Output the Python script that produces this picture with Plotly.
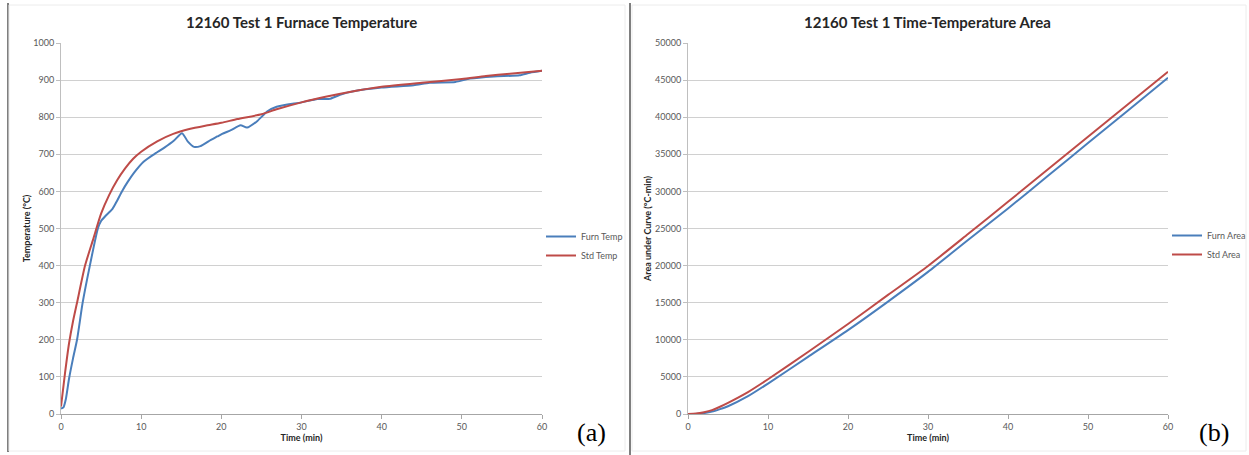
import plotly.graph_objects as go

# ---- data ----
std_t = [0, 0.5, 1, 1.5, 2, 3, 4, 5, 6, 7, 8, 9, 10, 12, 14, 16, 18, 20, 22, 25, 27, 30, 33, 36, 40, 45, 50, 53, 56, 60]
std_temp = [20, 110, 190, 250, 300, 400, 470, 540, 590, 630, 662, 688, 707, 735, 755, 768, 777, 785, 795, 808, 822, 840, 855, 868, 882, 893, 903, 911, 917, 925]

furn_t = [0, 0.3, 0.6, 1.0, 1.5, 2.0, 2.7, 3.6, 4.6, 5.0, 5.6, 6.4, 7.0, 7.6, 8.3, 9.1, 10.3, 11.6, 12.9, 14.1, 15.1, 15.8, 16.6, 17.4, 18.4, 19.5, 20.1, 21.2, 22.4, 23.2, 24.5, 25.7, 26.9, 30, 32, 33.6, 35, 36.5, 40, 44, 46, 49.2, 51, 54, 57.2, 58.5, 60]
furn_temp = [15, 18, 40, 95, 150, 200, 300, 400, 500, 520, 535, 552, 575, 600, 625, 650, 680, 700, 718, 737, 757, 735, 720, 722, 735, 748, 755, 765, 778, 772, 790, 815, 828, 840, 849, 850, 862, 870, 880, 886, 893, 895, 904, 910, 913, 920, 925]

area_t = [0, 1, 2, 3, 4, 5, 7.5, 10, 15, 20, 25, 30, 35, 40, 45, 50, 55, 60]
std_area = [0, 60, 240, 520, 980, 1500, 2950, 4680, 8350, 12130, 16050, 19950, 24250, 28600, 32980, 37370, 41750, 46130]
furn_area = [0, 15, 120, 320, 660, 1050, 2400, 4100, 7700, 11300, 15150, 19150, 23450, 27700, 32100, 36510, 40900, 45320]

x_ticks = [0, 10, 20, 30, 40, 50, 60]
temp_ticks = list(range(0, 1001, 100))
area_ticks = list(range(0, 50001, 5000))

BLUE = "#4a7ebb"
RED = "#be4b48"
GRID = "#d0d0d0"
TICKC = "#595959"
FONT = "Lato, 'Open Sans', sans-serif"

fig = go.Figure()
fig.add_trace(go.Scatter(x=furn_t, y=furn_temp, mode="lines", name="Furn Temp",
                         line=dict(color=BLUE, width=2, shape="spline", smoothing=0.6),
                         xaxis="x", yaxis="y", legend="legend"))
fig.add_trace(go.Scatter(x=std_t, y=std_temp, mode="lines", name="Std Temp",
                         line=dict(color=RED, width=2, shape="spline", smoothing=0.6),
                         xaxis="x", yaxis="y", legend="legend"))
fig.add_trace(go.Scatter(x=area_t, y=furn_area, mode="lines", name="Furn Area",
                         line=dict(color=BLUE, width=2, shape="spline", smoothing=0.6),
                         xaxis="x2", yaxis="y2", legend="legend2"))
fig.add_trace(go.Scatter(x=area_t, y=std_area, mode="lines", name="Std Area",
                         line=dict(color=RED, width=2, shape="spline", smoothing=0.6),
                         xaxis="x2", yaxis="y2", legend="legend2"))

W, H = 1249, 455
def px_x(p):
    return p / W
def px_y(p):
    return (H - p) / H

xcommon = dict(range=[0, 60], tickvals=x_ticks, showgrid=False, showline=True,
               linecolor="#a6a6a6", linewidth=1, ticks="outside", ticklen=4,
               tickcolor="#a6a6a6", tickfont=dict(size=9, color=TICKC, family=FONT),
               zeroline=False, fixedrange=True, automargin=False)
ycommon = dict(showgrid=True, gridcolor=GRID, gridwidth=1, showline=True,
               linecolor="#bfbfbf", linewidth=1, ticks="outside", ticklen=4,
               tickcolor="#bfbfbf", tickfont=dict(size=9, color=TICKC, family=FONT),
               zeroline=False, fixedrange=True, automargin=False, tickformat="d")

fig.update_layout(
    width=W, height=H,
    margin=dict(l=0, r=0, t=0, b=0, autoexpand=False),
    paper_bgcolor="white", plot_bgcolor="white",
    font=dict(family=FONT),
    xaxis=dict(domain=[px_x(61), px_x(542)], anchor="y",
               title=dict(text="<b>Time (min)</b>", font=dict(size=9, color="#262626"), standoff=3),
               **xcommon),
    yaxis=dict(domain=[px_y(414), px_y(43)], anchor="x", range=[0, 1000], tickvals=temp_ticks,
               title=dict(text="<b>Temperature (°C)</b>", font=dict(size=9, color="#262626"), standoff=1),
               **ycommon),
    xaxis2=dict(domain=[px_x(688), px_x(1168)], anchor="y2",
                title=dict(text="<b>Time (min)</b>", font=dict(size=9, color="#262626"), standoff=3),
                **xcommon),
    yaxis2=dict(domain=[px_y(414), px_y(43)], anchor="x2", range=[0, 50000], tickvals=area_ticks,
                title=dict(text="<b>Area under Curve (°C-min)</b>", font=dict(size=9, color="#262626"), standoff=1),
                **ycommon),
    legend=dict(x=px_x(541), y=px_y(222), xanchor="left", yanchor="top",
                font=dict(size=9, color=TICKC, family=FONT), bgcolor="rgba(0,0,0,0)",
                itemwidth=30, tracegroupgap=0),
    legend2=dict(x=px_x(1167), y=px_y(221), xanchor="left", yanchor="top",
                 font=dict(size=9, color=TICKC, family=FONT), bgcolor="rgba(0,0,0,0)",
                 itemwidth=30, tracegroupgap=0),
    showlegend=True,
)

annotations = [
    dict(text="<b>12160 Test 1 Furnace Temperature</b>", x=px_x(301), y=px_y(22),
         font=dict(size=15, color="#262626", family=FONT)),
    dict(text="<b>12160 Test 1 Time-Temperature Area</b>", x=px_x(927), y=px_y(22),
         font=dict(size=15, color="#262626", family=FONT)),
    dict(text="(a)", x=px_x(591), y=px_y(432),
         font=dict(size=26, color="black", family="Liberation Serif, serif")),
    dict(text="(b)", x=px_x(1214), y=px_y(432),
         font=dict(size=26, color="black", family="Liberation Serif, serif")),
]
for a in annotations:
    a.update(xref="paper", yref="paper", showarrow=False, xanchor="center", yanchor="middle")
fig.update_layout(annotations=annotations)

shapes = [
    # outer dark borders
    dict(type="line", x0=px_x(8), x1=px_x(8), y0=px_y(3), y1=px_y(452), line=dict(color="#7f7f7f", width=2)),
    dict(type="line", x0=px_x(630), x1=px_x(630), y0=px_y(3), y1=px_y(455), line=dict(color="#7f7f7f", width=2)),
    # light chart-area borders
    dict(type="rect", x0=px_x(9), x1=px_x(625), y0=px_y(5), y1=px_y(451), line=dict(color="#ececec", width=1)),
    dict(type="rect", x0=px_x(632), x1=px_x(1246), y0=px_y(5), y1=px_y(451), line=dict(color="#ececec", width=1)),
]
for s in shapes:
    s.update(xref="paper", yref="paper", layer="below")
fig.update_layout(shapes=shapes)

fig.write_html("out.html", config={"displayModeBar": False},
               post_script="document.body.style.margin='0';")
